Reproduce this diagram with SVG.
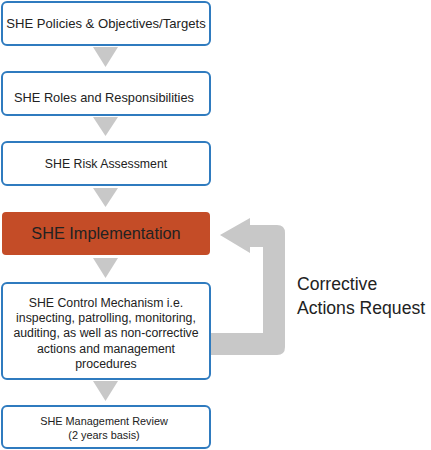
<svg xmlns="http://www.w3.org/2000/svg" width="431" height="450" viewBox="0 0 431 450">
<style>
.box{fill:#fff;stroke:#2f7bbf;stroke-width:2}
.t{font-family:"Liberation Sans",Arial,sans-serif;fill:#222;text-anchor:middle}
.arr{fill:#c8c8c8}
</style>
<rect width="431" height="450" fill="#fff"/>
<g id="connectors">
<polygon class="arr" points="93,47 118,47 105.5,67"/>
<polygon class="arr" points="93,117 118,117 105.5,136"/>
<polygon class="arr" points="93,188 118,188 105.5,207"/>
<polygon class="arr" points="93,258 118,258 105.5,278"/>
<polygon class="arr" points="93,381 118,381 105.5,401"/>
<path class="arr" d="M210,333 H263 V247 H250 V253 L220,235 L250,218 V225 H277 Q285,225 285,233 V347 Q285,355 277,355 H210 Z"/>
</g>
<g id="n1"><rect class="box" x="2" y="2" width="208" height="43" rx="5"/><text class="t" x="106" y="28" font-size="13.1">SHE Policies &amp; Objectives/Targets</text></g>
<g id="n2"><rect class="box" x="2" y="72" width="208" height="43" rx="5"/><text class="t" x="104" y="102" font-size="12.8">SHE Roles and Responsibilities</text></g>
<g id="n3"><rect class="box" x="2" y="142" width="208" height="43" rx="5"/><text class="t" x="106" y="168" font-size="12.3">SHE Risk Assessment</text></g>
<g id="n4"><rect x="2" y="212" width="208" height="43" rx="4" fill="#c44c27"/><text class="t" x="106" y="239" font-size="16.3">SHE Implementation</text></g>
<g id="n5"><rect class="box" x="2" y="283" width="208" height="96" rx="5"/>
<text class="t" font-size="12.3"><tspan x="106" y="307">SHE Control Mechanism i.e.</tspan><tspan x="106" y="322">inspecting, patrolling, monitoring,</tspan><tspan x="106" y="337">auditing, as well as non-corrective</tspan><tspan x="106" y="353">actions and management</tspan><tspan x="106" y="368">procedures</tspan></text></g>
<g id="n6"><rect class="box" x="2" y="406" width="208" height="42" rx="5"/>
<text class="t" font-size="10.9"><tspan x="104" y="425">SHE Management Review</tspan><tspan x="104" y="439">(2 years basis)</tspan></text></g>
<g id="label"><text font-family="'Liberation Sans',Arial,sans-serif" font-size="17.6" fill="#222"><tspan x="297" y="290">Corrective</tspan><tspan x="297" y="314">Actions Request</tspan></text></g>
</svg>
